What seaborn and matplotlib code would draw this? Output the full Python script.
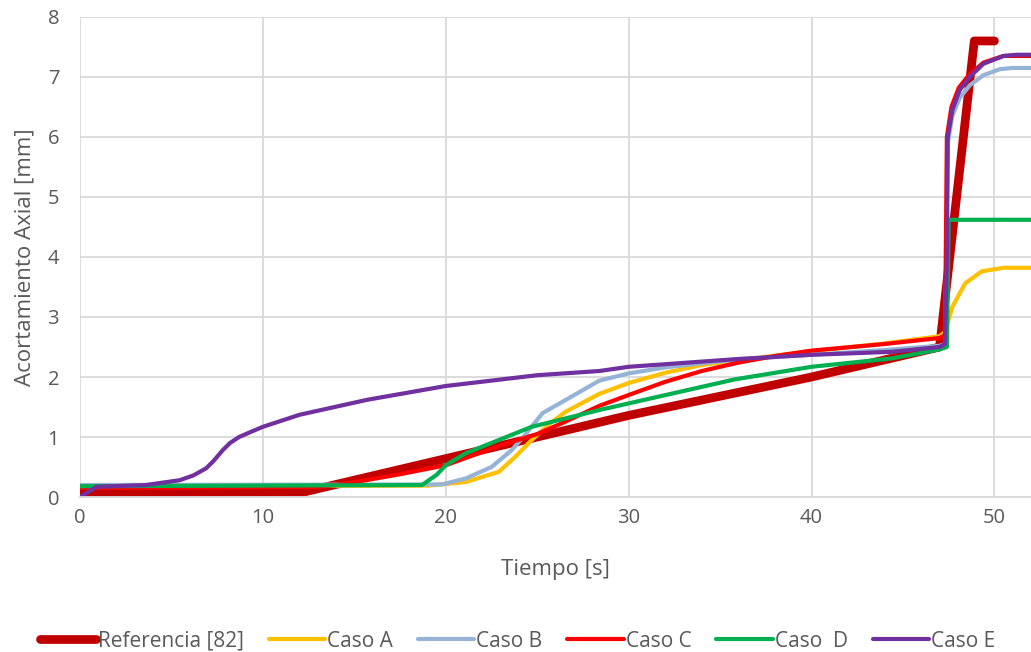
import matplotlib
matplotlib.use("Agg")
import matplotlib.pyplot as plt
import seaborn as sns
import pandas as pd

ref_x = [0, 12.2, 20, 30, 40, 47, 48.9, 50]
ref_y = [0.08, 0.08, 0.64, 1.36, 2.0, 2.5, 7.6, 7.6]

a_x = [0, 19, 21.1, 22.9, 23.8, 24.7, 25.6, 26.55, 28.4, 30, 32, 34, 36, 40, 44, 47, 47.3, 47.7, 48.4, 49.3, 50.5, 52]
a_y = [0.18, 0.19, 0.25, 0.42, 0.67, 0.95, 1.2, 1.42, 1.72, 1.9, 2.07, 2.2, 2.28, 2.43, 2.56, 2.68, 2.75, 3.17, 3.56, 3.76, 3.82, 3.82]

b_x = [0, 19.8, 21.1, 22.5, 23.6, 24.4, 25.3, 26.4, 28.4, 30, 32, 35.8, 40, 44, 47, 47.3, 47.45, 47.7, 48.1, 48.65, 49.4, 50.3, 51, 52]
b_y = [0.2, 0.21, 0.31, 0.5, 0.78, 1.06, 1.4, 1.59, 1.94, 2.06, 2.16, 2.29, 2.37, 2.45, 2.52, 2.55, 5.9, 6.35, 6.65, 6.86, 7.03, 7.13, 7.15, 7.15]

c_x = [0, 13, 14, 16, 17.5, 20, 22.9, 25, 26.5, 28.4, 30, 32, 34, 36, 38, 40, 44, 47, 47.3, 47.4, 47.65, 48.05, 48.6, 49.4, 50.5, 52]
c_y = [0.15, 0.17, 0.2, 0.3, 0.38, 0.53, 0.85, 1.05, 1.25, 1.52, 1.7, 1.92, 2.1, 2.24, 2.35, 2.44, 2.55, 2.65, 2.7, 6.0, 6.5, 6.82, 7.03, 7.24, 7.35, 7.35]

d_x = [0, 18.7, 19.5, 20, 21.1, 22.9, 24.7, 26.55, 28.4, 30, 35.8, 40, 44.4, 47, 47.4, 47.5, 52]
d_y = [0.18, 0.2, 0.37, 0.53, 0.73, 0.95, 1.17, 1.31, 1.45, 1.56, 1.96, 2.17, 2.31, 2.46, 2.5, 4.62, 4.62]

e_x = [0, 0.9, 3.6, 5.45, 6.2, 6.9, 7.3, 7.8, 8.2, 8.7, 9.3, 10, 10.9, 12, 15.7, 20, 25, 28.4, 30, 36, 40, 44.4, 47, 47.3, 47.4, 47.45, 47.7, 48.1, 48.65, 49.4, 50.5, 51.2, 52]
e_y = [0, 0.17, 0.2, 0.28, 0.36, 0.48, 0.6, 0.78, 0.9, 1.0, 1.08, 1.17, 1.26, 1.37, 1.62, 1.85, 2.03, 2.1, 2.17, 2.3, 2.37, 2.42, 2.5, 2.55, 4.0, 6.0, 6.45, 6.78, 7.0, 7.22, 7.35, 7.37, 7.37]

names = ["Referencia [82]", "Caso A", "Caso B", "Caso C", "Caso  D", "Caso E"]
colors = ["#C00000", "#FFC000", "#95B3D7", "#FF0000", "#00B050", "#7030A0"]
widths = [6.3, 3.0, 3.0, 3.0, 3.0, 3.0]
xs = [ref_x, a_x, b_x, c_x, d_x, e_x]
ys = [ref_y, a_y, b_y, c_y, d_y, e_y]

sns.set_style("white")
plt.rcParams["font.family"] = ["Open Sans", "DejaVu Sans"]

fig = plt.figure(figsize=(10.31, 6.52), dpi=100)
ax = fig.add_axes([0.0776, 0.2377, 0.9224, 0.7363])

for n, c, w, x, y in zip(names, colors, widths, xs, ys):
    df = pd.DataFrame({"t": x, "v": y})
    sns.lineplot(data=df, x="t", y="v", ax=ax, color=c, linewidth=w, label=n,
                 sort=False, estimator=None, solid_capstyle="round", solid_joinstyle="round")

ax.set_xlim(0, 52.0)
ax.set_ylim(0, 8)
ax.set_xticks([0, 10, 20, 30, 40, 50])
ax.set_yticks(range(0, 9))
ax.grid(True, color="#D9D9D9", linewidth=1.3)
ax.set_axisbelow(True)
for s in ["top", "right", "left"]:
    ax.spines[s].set_visible(False)
ax.spines["bottom"].set_color("#D9D9D9")
ax.spines["bottom"].set_linewidth(1.3)
ax.tick_params(axis="y", length=0, labelsize=14.5, colors="#595959", pad=15)
ax.tick_params(axis="x", length=0, labelsize=14.5, colors="#595959", pad=8)
ax.set_xlabel("Tiempo [s]", fontsize=16, color="#595959", labelpad=22)
ax.set_ylabel("Acortamiento Axial [mm]", fontsize=16, color="#595959", labelpad=9)

leg = ax.legend(loc="center", bbox_to_anchor=(0.46, -0.30), ncol=6, frameon=False,
                fontsize=15, handlelength=2.7, handletextpad=0.1, columnspacing=1.2,
                labelcolor="#595959")
fig.savefig("out.png", dpi=100)
